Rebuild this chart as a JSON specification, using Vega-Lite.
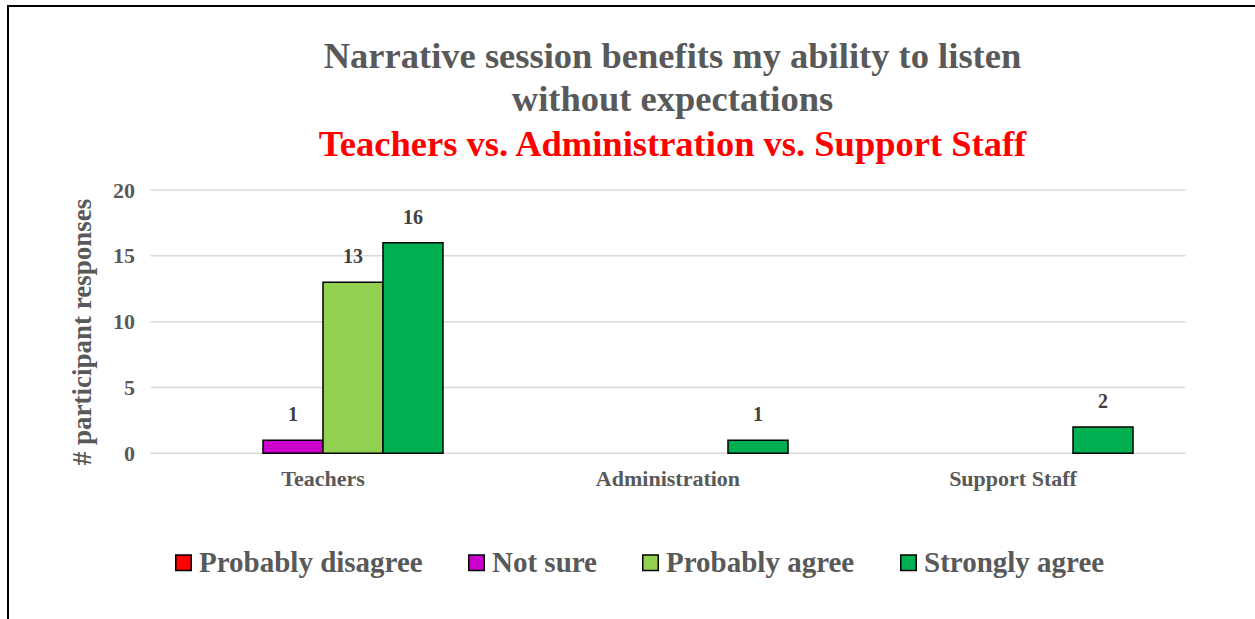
{
  "$schema": "https://vega.github.io/schema/vega-lite/v6.json",
  "width": 1249,
  "height": 615,
  "autosize": {"type": "none"},
  "padding": {"left": 8, "top": 6, "right": -2, "bottom": -2},
  "background": "white",
  "config": {
    "view": {"stroke": "black", "strokeWidth": 2, "fill": "white"},
    "font": "Liberation Serif"
  },
  "title": {
    "text": ["Narrative session benefits my ability to listen", "without expectations"],
    "subtitle": "Teachers vs. Administration vs. Support Staff",
    "font": "Liberation Serif",
    "subtitleFont": "Liberation Serif",
    "fontSize": 36.5,
    "subtitleFontSize": 36.5,
    "fontWeight": "bold",
    "subtitleFontWeight": "bold",
    "color": "#595959",
    "subtitleColor": "#FF0000",
    "lineHeight": 43,
    "subtitleLineHeight": 43,
    "subtitlePadding": 8,
    "anchor": "middle",
    "frame": "group",
    "offset": -157,
    "dx": 40
  },
  "datasets": {
    "responses": [
      {"group": "Teachers", "response": "Not sure", "count": 1},
      {"group": "Teachers", "response": "Probably agree", "count": 13},
      {"group": "Teachers", "response": "Strongly agree", "count": 16},
      {"group": "Administration", "response": "Strongly agree", "count": 1},
      {"group": "Support Staff", "response": "Strongly agree", "count": 2}
    ],
    "gridlines": [{"v": 0}, {"v": 5}, {"v": 10}, {"v": 15}, {"v": 20}]
  },
  "layer": [
    {
      "data": {"name": "gridlines"},
      "mark": {"type": "rule", "color": "#D9D9D9", "strokeWidth": 1.5},
      "encoding": {
        "x": {"datum": "Teachers", "type": "nominal", "bandPosition": 0},
        "x2": {"datum": "Support Staff", "bandPosition": 1},
        "y": {"field": "v", "type": "quantitative"}
      }
    },
    {
      "data": {"name": "responses"},
      "mark": {"type": "bar", "stroke": "black", "strokeWidth": 1.5},
      "encoding": {
        "x": {
          "field": "group",
          "type": "nominal",
          "sort": ["Teachers", "Administration", "Support Staff"],
          "scale": {
            "domain": ["Teachers", "Administration", "Support Staff"],
            "paddingInner": 0,
            "paddingOuter": 0.3101,
            "align": 0.6659
          },
          "axis": {
            "title": null,
            "orient": "bottom",
            "offset": -167.7,
            "domain": false,
            "ticks": false,
            "tickSize": 0,
            "labelAngle": 0,
            "labelAlign": "center",
            "labelPadding": 25,
            "labelFont": "Liberation Serif",
            "labelFontSize": 22,
            "labelFontWeight": "bold",
            "labelColor": "#595959",
            "grid": false
          }
        },
        "xOffset": {
          "field": "response",
          "type": "nominal",
          "scale": {
            "domain": ["Probably disagree", "Not sure", "Probably agree", "Strongly agree"],
            "paddingInner": 0,
            "paddingOuter": 0.875
          }
        },
        "y": {
          "field": "count",
          "type": "quantitative",
          "stack": null,
          "scale": {"domain": [-12.738, 33.977], "nice": false, "zero": false},
          "axis": {
            "values": [0, 5, 10, 15, 20],
            "offset": -142.5,
            "grid": false,
            "domain": false,
            "ticks": false,
            "tickSize": 0,
            "labelPadding": 16,
            "labelFont": "Liberation Serif",
            "labelFontSize": 22,
            "labelFontWeight": "bold",
            "labelColor": "#595959",
            "title": "# participant responses",
            "titleFont": "Liberation Serif",
            "titleFontSize": 27,
            "titleFontWeight": "bold",
            "titleColor": "#595959",
            "titleAngle": -90,
            "titleAlign": "center",
            "titleBaseline": "middle",
            "titleX": -68,
            "titleY": 325.5
          }
        },
        "color": {
          "field": "response",
          "type": "nominal",
          "scale": {
            "domain": ["Probably disagree", "Not sure", "Probably agree", "Strongly agree"],
            "range": ["#FF0000", "#CC00CC", "#92D050", "#00B050"]
          },
          "legend": {
            "title": null,
            "orient": "none",
            "direction": "horizontal",
            "columns": 4,
            "legendX": 161,
            "legendY": 542,
            "padding": 0,
            "columnPadding": 39,
            "symbolType": "square",
            "symbolSize": 240,
            "symbolStrokeColor": "black",
            "symbolStrokeWidth": 1.5,
            "symbolOpacity": 1,
            "labelOffset": 1,
            "labelFont": "Liberation Serif",
            "labelFontSize": 29,
            "labelFontWeight": "bold",
            "labelColor": "#595959",
            "labelLimit": 400
          }
        }
      }
    },
    {
      "data": {"name": "responses"},
      "mark": {
        "type": "text",
        "baseline": "alphabetic",
        "dy": -19,
        "font": "Liberation Serif",
        "fontSize": 20,
        "fontWeight": "bold",
        "color": "#404040"
      },
      "encoding": {
        "x": {"field": "group", "type": "nominal"},
        "xOffset": {"field": "response", "type": "nominal"},
        "y": {"field": "count", "type": "quantitative", "stack": null},
        "text": {"field": "count", "type": "quantitative"}
      }
    }
  ]
}
